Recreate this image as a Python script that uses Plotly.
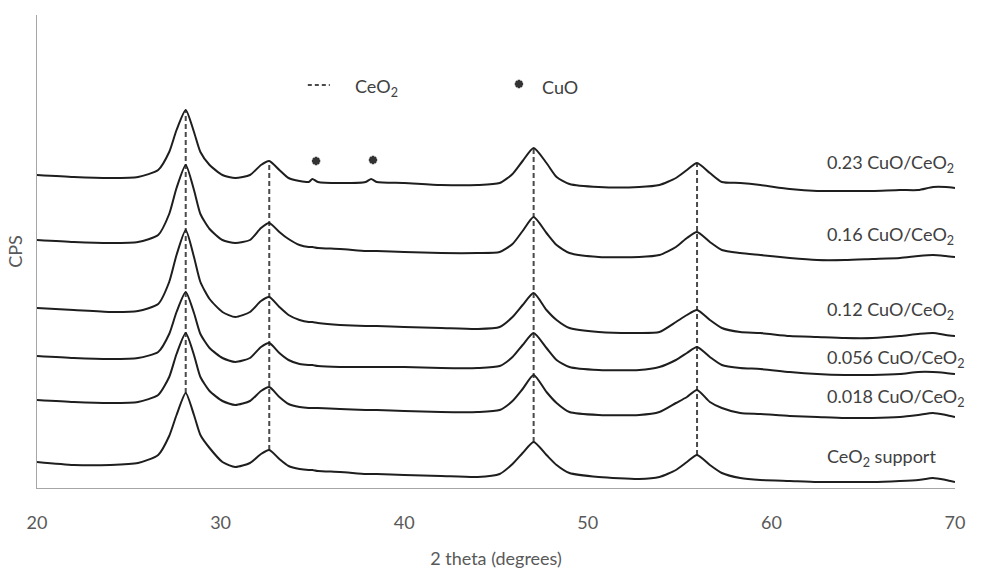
import numpy as np
import plotly.graph_objects as go

# 2 theta (degrees) sampling positions
two_theta = [20, 22, 24, 25.5, 26.6, 27.2, 27.6, 28.1, 28.55, 28.9,
             29.4, 30.1, 30.8, 31.6, 32.2, 32.65, 33.2, 33.7, 34.3, 34.8,
             35.0, 35.3, 36.5, 37.9, 38.2, 38.5, 40, 42, 44, 45.2,
             45.9, 46.45, 47.05, 47.75, 48.3, 49.0, 50.6, 52.8, 53.9, 54.8,
             55.4, 55.95, 56.65, 57.3, 58.3, 59.4, 61, 62.5, 64, 65.5,
             67, 68, 68.8, 69.5, 70]

# CPS (stacked, arbitrary units)
cps_023 = [313, 311, 310, 311, 318, 336, 358, 378, 356, 336,
           323, 313, 310, 313, 323, 327, 318, 310, 307, 306,
           309, 306, 305, 306, 309, 306, 305, 303, 303, 305,
           314, 327, 340, 325, 311, 304, 301, 301, 303, 310,
           318, 325, 315, 306, 305, 303, 299, 297, 297, 297,
           298, 298, 301, 301, 300]
cps_016 = [248, 246, 245, 246, 253, 274, 300, 323, 298, 274,
           259, 248, 245, 248, 260, 265, 256, 249, 243, 241,
           241, 240, 239, 237, 237, 237, 236, 235, 235, 236,
           244, 257, 271, 255, 243, 235, 231, 231, 233, 241,
           250, 256, 246, 238, 235, 233, 230, 228, 228, 229,
           230, 232, 233, 232, 231]
cps_012 = [180, 178, 176, 177, 184, 206, 233, 258, 231, 206,
           189, 176, 171, 176, 187, 191, 181, 173, 168, 166,
           166, 165, 163, 162, 162, 162, 161, 160, 159, 161,
           171, 183, 195, 178, 168, 160, 156, 155, 156, 166,
           173, 178, 168, 160, 156, 155, 152, 151, 150, 150,
           152, 154, 155, 153, 152]
cps_0056 = [132, 130, 129, 130, 136, 154, 176, 196, 175, 154,
            140, 130, 126, 130, 141, 145, 135, 128, 124, 123,
            123, 122, 121, 121, 121, 121, 121, 120, 120, 122,
            131, 143, 155, 140, 128, 121, 118, 118, 121, 128,
            135, 141, 131, 123, 120, 119, 116, 114, 113, 113,
            114, 116, 116, 115, 114]
cps_0018 = [88, 86, 85, 86, 93, 111, 134, 155, 133, 111,
            97, 87, 83, 87, 97, 101, 91, 84, 81, 80,
            80, 80, 79, 78, 78, 78, 77, 76, 76, 78,
            87, 99, 113, 96, 85, 76, 73, 73, 76, 85,
            91, 98, 86, 80, 75, 74, 72, 71, 70, 70,
            71, 73, 75, 73, 71]
cps_support = [26, 23, 23, 25, 33, 52, 73, 95, 73, 53,
               40, 26, 21, 25, 34, 38, 29, 22, 19, 18,
               18, 17, 16, 14, 14, 14, 13, 12, 11, 14,
               24, 35, 46, 33, 23, 15, 11, 9, 11, 18,
               26, 33, 23, 15, 10, 8, 7, 6, 6, 6,
               7, 8, 10, 8, 6]

series = [cps_023, cps_016, cps_012, cps_0056, cps_0018, cps_support]
series_names = ["0.23 CuO/CeO<sub>2</sub>", "0.16 CuO/CeO<sub>2</sub>",
                "0.12 CuO/CeO<sub>2</sub>", "0.056 CuO/CeO<sub>2</sub>",
                "0.018 CuO/CeO<sub>2</sub>", "CeO<sub>2</sub> support"]
label_y = [325, 253, 178, 130, 91, 31]
label_x = 62.9

ceo2_peaks = [28.1, 32.65, 47.05, 55.95]
cuo_peaks = [35.2, 38.3]

LINE = "#1e1e1e"
TXT = "#404040"
AX = "#a6a6a6"
STAR = "#333333"
FONT = "Lato, 'Open Sans', sans-serif"

fig = go.Figure()

# dashed CeO2 reference lines from the support peak up to the top pattern
for p in ceo2_peaks:
    top = float(np.interp(p, two_theta, cps_023))
    bot = float(np.interp(p, two_theta, cps_support))
    fig.add_trace(go.Scatter(x=[p, p], y=[bot, top], mode="lines",
                             line=dict(color="#4a4a4a", width=2, dash="5px,3px"),
                             showlegend=False, hoverinfo="skip"))

for ys, name in zip(series, series_names):
    fig.add_trace(go.Scatter(x=two_theta, y=ys, mode="lines", name=name,
                             line=dict(color=LINE, width=2, shape="spline",
                                       smoothing=0.6),
                             showlegend=False))

# CuO markers above the top pattern
star_y = [float(np.interp(p, two_theta, cps_023)) + 20 for p in cuo_peaks]
fig.add_trace(go.Scatter(x=cuo_peaks, y=star_y, mode="markers",
                         marker=dict(symbol="asterisk-open", size=7, color=STAR,
                                     line=dict(color=STAR, width=2.5)),
                         showlegend=False, hoverinfo="skip"))

# sample labels
for name, ly in zip(series_names, label_y):
    fig.add_annotation(x=label_x, y=ly, text=name, showarrow=False,
                       xanchor="left", yanchor="middle",
                       font=dict(family=FONT, size=18, color=TXT))

# legend-like key at the top
fig.add_shape(type="line", x0=34.75, x1=35.95, y0=403, y1=403,
              line=dict(color="#4a4a4a", width=2, dash="4px,3px"))
fig.add_annotation(x=37.2, y=401, text="CeO<sub>2</sub>", showarrow=False,
                   xanchor="left", yanchor="middle",
                   font=dict(family=FONT, size=18, color=TXT))
fig.add_trace(go.Scatter(x=[46.25], y=[404], mode="markers",
                         marker=dict(symbol="asterisk-open", size=7, color=STAR,
                                     line=dict(color=STAR, width=2.5)),
                         showlegend=False, hoverinfo="skip"))
fig.add_annotation(x=47.4, y=401, text="CuO", showarrow=False,
                   xanchor="left", yanchor="middle",
                   font=dict(family=FONT, size=18, color=TXT))

fig.update_layout(
    width=997, height=571,
    margin=dict(l=37, r=42, t=15, b=83),
    paper_bgcolor="white", plot_bgcolor="white",
    font=dict(family=FONT, color="#595959"),
    xaxis=dict(range=[20, 70], tickvals=[20, 30, 40, 50, 60, 70],
               showgrid=False, zeroline=False, showline=True,
               linecolor=AX, linewidth=1, ticks="", automargin=False,
               ticklabelstandoff=18,
               tickfont=dict(family=FONT, size=18, color="#595959"),
               title=dict(text="2 theta (degrees)", standoff=20,
                          font=dict(family=FONT, size=18, color="#595959"))),
    yaxis=dict(range=[0, 473], showticklabels=False, showgrid=False,
               zeroline=False, showline=True, linecolor=AX, linewidth=1,
               ticks="", automargin=False,
               title=dict(text="CPS", standoff=8,
                          font=dict(family=FONT, size=18, color="#595959"))),
)

fig.write_html("out.html")
